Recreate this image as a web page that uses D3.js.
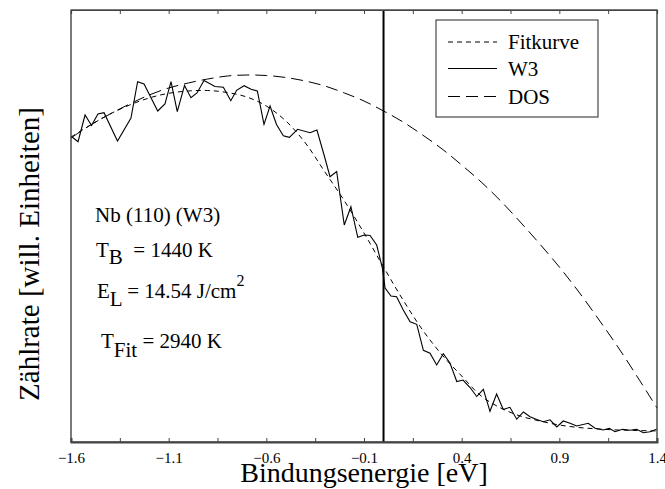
<!DOCTYPE html>
<html><head><meta charset="utf-8">
<script src="https://cdn.jsdelivr.net/npm/d3@7"></script>
<style>
body{margin:0;background:#fff;}
svg text{font-family:"Liberation Serif","Times New Roman",Times,serif !important;fill:#000;}
</style></head>
<body><svg id="c" width="665" height="489"></svg>
<script>
// ---- data ----
const majorTicks = [-1.6, -1.1, -0.6, -0.1, 0.4, 0.9, 1.4];
const minorTicks = [-1.35, -0.85, -0.35, 0.15, 0.65, 1.15];
const fermiLevel = 0.0;

const gridE = [-1.6,-1.5,-1.4,-1.3,-1.2,-1.1,-1.0,-0.9,-0.8,-0.7,-0.6,-0.5,-0.4,-0.3,-0.2,-0.1,0.0,0.1,0.2,0.3,0.4,0.5,0.6,0.7,0.8,0.9,1.0,1.1,1.2,1.3,1.4];
const dosValues = [304,317,328,338,347,354,359,363,366,367,366.5,364.5,361,356,349,341,331,320,307,293,277,260,241,220,198,175,150,123,95,65,34];
const fitValues = [305,317,328,337,344,348.7,351,351.5,349.5,345,336,321,299,270,241,209,175,142,112,87,66,46,34,26,21,17,14.5,13,12,11.5,11];

const w3E = [-1.596,-1.564,-1.528,-1.495,-1.462,-1.431,-1.362,-1.293,-1.259,-1.226,-1.156,-1.119,-1.088,-1.056,-1.019,-0.986,-0.955,-0.919,-0.863,-0.820,-0.782,-0.752,-0.714,-0.678,-0.646,-0.612,-0.581,-0.548,-0.513,-0.482,-0.440,-0.376,-0.341,-0.303,-0.274,-0.240,-0.201,-0.167,-0.132,-0.098,-0.069,-0.035,-0.006,0.008,0.038,0.067,0.101,0.136,0.170,0.204,0.238,0.272,0.306,0.340,0.375,0.407,0.443,0.477,0.511,0.545,0.579,0.613,0.647,0.682,0.716,0.750,0.784,0.818,0.852,0.887,0.920,0.955,0.989,1.048,1.083,1.125,1.156,1.185,1.224,1.262,1.296,1.330,1.364,1.398];
const w3Values = [305.3,300.3,327,316.5,328,329.3,301,324,360.3,358,331,338,360.3,330.3,356.5,344.3,349,361.5,355.5,354.7,341.3,351.7,356.3,352.7,351,317.7,336,317.5,306.3,304.7,312.7,309.3,312,286,265.3,270.5,217,235.3,204.7,207,206.5,197,174,154,146,145.3,132,120.3,117.7,91.7,88.7,77,88.3,79,60.5,62,54.5,45.5,52.7,30.7,48,32.5,34.7,22.8,30,25.3,22.5,20.3,22.2,15,21,18.7,16,18.7,13.7,12,13.7,10.3,12.7,11.7,12.7,9.3,10.3,12.7];

const legendLabels = ["Fitkurve", "W3", "DOS"];
const xTitle = "Bindungsenergie [eV]";
const yTitle = "Zählrate [will. Einheiten]";

// ---- layout ----
const W = 665, H = 489;
const m = {l:71, r:8, t:10, b:47};
const FONT = '"Liberation Serif","Times New Roman",Times,serif';
const svg = d3.select("#c").style("font-family", FONT);
const x = d3.scaleLinear().domain([-1.6, 1.4]).range([m.l, W - m.r]);
const y = d3.scaleLinear().domain([0, 432]).range([H - m.b, m.t]);
const fmt = d => (d < 0 ? "\u2212" : "") + Math.abs(d).toFixed(1);

const dashFit = "5,4", dashDos = "12,6";

const line = d3.line().x(d => x(d[0])).y(d => y(d[1]));
const smooth = d3.line().x(d => x(d[0])).y(d => y(d[1])).curve(d3.curveCatmullRom);

svg.append("path").datum(gridE.map((e,i)=>[e,dosValues[i]]))
  .attr("d", smooth).attr("fill","none").attr("stroke","#000").attr("stroke-width",1).attr("stroke-dasharray",dashDos);
svg.append("path").datum(gridE.map((e,i)=>[e,fitValues[i]]))
  .attr("d", smooth).attr("fill","none").attr("stroke","#000").attr("stroke-width",1).attr("stroke-dasharray",dashFit);
svg.append("path").datum(w3E.map((e,i)=>[e,w3Values[i]]))
  .attr("d", line).attr("fill","none").attr("stroke","#000").attr("stroke-width",1.1);

svg.append("line").attr("x1", x(fermiLevel)).attr("x2", x(fermiLevel))
  .attr("y1", y(0)).attr("y2", y(432)).attr("stroke","#000").attr("stroke-width",2);

svg.append("rect").attr("x", m.l).attr("y", m.t).attr("width", W-m.r-m.l).attr("height", H-m.b-m.t)
  .attr("fill","none").attr("stroke","#222").attr("stroke-width",1.2);

const allTicks = majorTicks.concat(minorTicks).sort((a,b)=>a-b);
const gB = svg.append("g").attr("transform", `translate(0,${H-m.b})`)
  .call(d3.axisBottom(x).tickValues(allTicks).tickSize(-4).tickPadding(10)
    .tickFormat(d => majorTicks.some(t=>Math.abs(t-d)<1e-9) ? fmt(d) : ""));
gB.attr("font-family", FONT);
gB.select(".domain").attr("stroke","#444").attr("stroke-width",2);
gB.selectAll("line").attr("stroke","#444");
gB.selectAll("text").style("font-size","15px").attr("fill","#000");

const gT = svg.append("g").attr("transform", `translate(0,${m.t})`)
  .call(d3.axisTop(x).tickValues(allTicks).tickSize(-4).tickFormat(""));
gT.select(".domain").attr("stroke","#444").attr("stroke-width",1.2);
gT.selectAll("line").attr("stroke","#444");

svg.append("text").attr("x", (m.l + W - m.r)/2).attr("y", 482).attr("text-anchor","middle")
  .style("font-size","28px").text(xTitle);
svg.append("text").attr("transform","translate(39,254) rotate(-90)").attr("text-anchor","middle")
  .style("font-size","29px").text(yTitle);

const lg = svg.append("g");
lg.append("rect").attr("x",436).attr("y",20).attr("width",162).attr("height",97)
  .attr("fill","#fff").attr("stroke","#222").attr("stroke-width",1);
const lgDash = [dashFit, null, dashDos];
const lgY = [42, 68.5, 96.5];
legendLabels.forEach((lab,i)=>{
  lg.append("line").attr("x1",448).attr("x2",497).attr("y1",lgY[i]).attr("y2",lgY[i])
    .attr("stroke","#000").attr("stroke-width",1).attr("stroke-dasharray",lgDash[i]);
  lg.append("text").attr("x",508).attr("y",lgY[i]+7).style("font-size","21px").text(lab);
});

const ann = svg.append("g").style("font-size","21px");
ann.append("text").attr("x",95).attr("y",222).text("Nb (110) (W3)");
const t1 = ann.append("text").attr("x",96).attr("y",257);
t1.append("tspan").text("T");
t1.append("tspan").attr("dy",7).text("B");
t1.append("tspan").attr("dy",-7).text("\u00a0 = 1440 K");
const t2 = ann.append("text").attr("x",97).attr("y",298);
t2.append("tspan").text("E");
t2.append("tspan").attr("dy",8).text("L");
t2.append("tspan").attr("dy",-8).text(" = 14.54 J/cm");
t2.append("tspan").attr("dy",-12).style("font-size","16px").text("2");
const t3 = ann.append("text").attr("x",101).attr("y",348);
t3.append("tspan").text("T");
t3.append("tspan").attr("dy",9).text("Fit");
t3.append("tspan").attr("dy",-9).text(" = 2940 K");
</script></body></html>
